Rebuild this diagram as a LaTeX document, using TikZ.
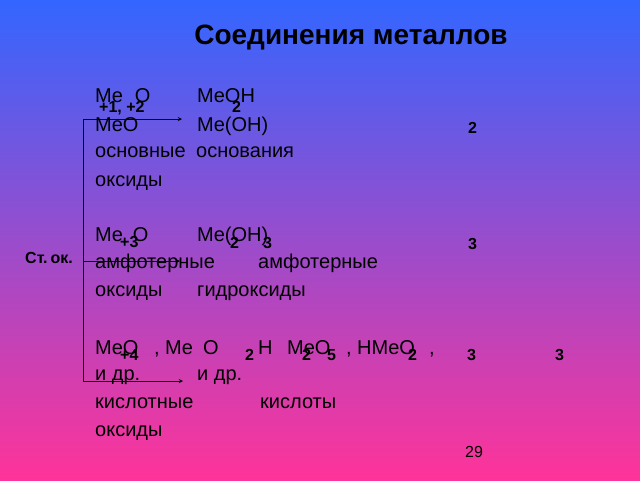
\documentclass[tikz,border=0pt]{standalone}
\usepackage{fontspec}
\setmainfont{Liberation Sans}
\usetikzlibrary{arrows,positioning}

\begin{document}
\begin{tikzpicture}[x=1pt,y=-1pt,>=stealth]
		\tikzstyle{txt}=[anchor=base west, inner sep=0pt, font=\fontsize{20}{24}\selectfont]
		\tikzstyle{ind}=[anchor=base west, inner sep=0pt, font=\fontsize{16}{19}\selectfont\bfseries]
		\tikzstyle{line}=[draw=black, line width=0.9pt]
		% background
		\shade[top color={rgb,255:red,51;green,102;blue,255}, bottom color={rgb,255:red,255;green,51;blue,153}] (0,0) rectangle (640,480);
		\useasboundingbox (0,0) rectangle (640,480);
		\node[anchor=base, inner sep=0pt, font=\fontsize{28}{32}\selectfont\bfseries] (title) at (351,44) {Соединения металлов};
		% basic
		\node[txt] (bo) at (95,102) {Me\hspace{12pt}O};
		\node[txt] (bh) at (197,102) {MeOH};
		\node[ind] (bo-i) at (99,112) {+1, +2};
		\node[ind] (bh-i) at (232,112) {2};
		\node[txt] (bo2) at (95,131) {MeO};
		\node[txt] (bh2) at (197,131) {Me(OH)};
		\node[ind] (bh2-i) at (468,133) {2};
		\node[txt] (bo3) at (95,157) {основные};
		\node[txt] (bh3) at (196,157) {основания};
		\node[txt] (bo4) at (95,186) {оксиды};
		% amphoteric
		\node[txt] (ao) at (95,241) {Me\hspace{10pt}O};
		\node[txt] (ah) at (197,241) {Me(OH)};
		\node[ind] (ao-i) at (120,247) {+3};
		\node[ind] (ah-i1) at (230,248) {2};
		\node[ind] (ah-i2) at (263,248) {3};
		\node[ind] (ah-i3) at (468,249) {3};
		\node[ind] (ox) at (25,263) {Ст.\hspace{3pt}ок.};
		\node[txt] (ao2) at (95,268) {амфотерные};
		\node[txt] (ah2) at (258,268) {амфотерные};
		\node[txt] (ao3) at (95,296) {оксиды};
		\node[txt] (ah3) at (197,296) {гидроксиды};
		% acidic
		\foreach \x/\t [count=\i] in {95/MeO, 154/{,}, 165/Me, 203/O, 258/H, 287/MeO, 346/{,}, 357/HMeO, 429/{,}}
			\node[txt] (k\i) at (\x,354) {\t};
		\foreach \x/\t [count=\i] in {120/+4, 245/2, 302/2, 327/5, 408/2, 467/3, 555/3}
			\node[ind] (k\i-i) at (\x,360) {\t};
		\node[txt] (ko2) at (95,380) {и др.};
		\node[txt] (kh2) at (197,380) {и др.};
		\node[txt] (ko3) at (95,408) {кислотные};
		\node[txt] (kh3) at (260,408) {кислоты};
		\node[txt] (ko4) at (95,436) {оксиды};
		\node[anchor=base west, inner sep=0pt, font=\fontsize{16}{19}\selectfont] (num) at (465,457) {29};
		% bracket
		\coordinate (b1) at (83,119);
		\coordinate (e1) at (182,119);
		\coordinate (b2) at (83,261);
		\coordinate (e2) at (180,261);
		\coordinate (b3) at (83,381);
		\coordinate (e3) at (183,381);
		\draw[line] (b1) -- (b3);
		\draw[line,->] (b1) -- (e1);
		\draw[line,->] (b2) -- (e2);
		\draw[line,->] (b3) -- (e3);
	\end{tikzpicture}
\end{document}
